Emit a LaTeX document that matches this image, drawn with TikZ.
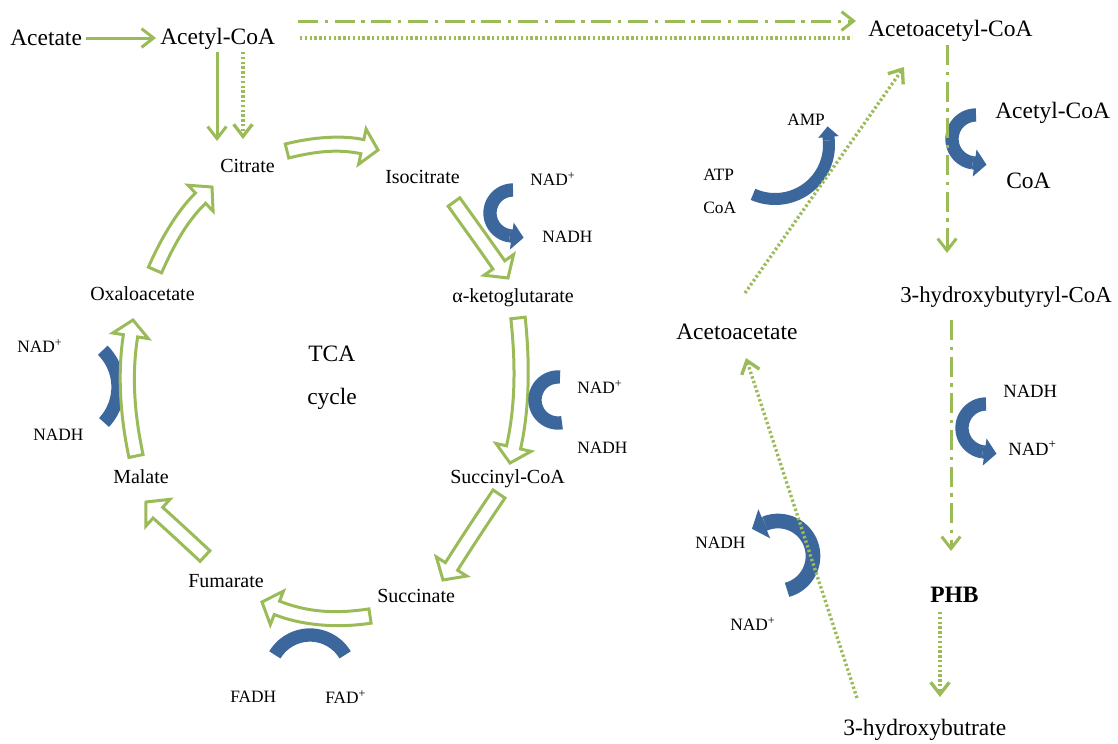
\documentclass[tikz,border=0pt]{standalone}
\usepackage{fontspec}
\setmainfont{Liberation Serif}
\usetikzlibrary{arrows.meta,calc}
\definecolor{tcagreen}{RGB}{155,187,89}
\definecolor{cofblue}{RGB}{60,103,156}
\newcommand\bkw{5.4pt}
\newcommand\bkh{13.5pt}
\newcommand\bkl{12pt}
\newcommand\sizeL{\fontsize{17.6pt}{20pt}\selectfont}
\newcommand\sizeS{\fontsize{15pt}{18pt}\selectfont}
\newcommand\sizeM{\fontsize{13pt}{16pt}\selectfont}
\newcommand\sizeR{\fontsize{14pt}{17pt}\selectfont}
% curved hollow block arrow: tail, control, tip
\newcommand\cblock[3]{%
  \path ($(#3)!\bkl!(#2)$) coordinate (bkH)
        ($(#1)!2/3!(#2)$) coordinate (bkC1)
        ($(bkH)!2/3!(#2)$) coordinate (bkC2);
  \draw[blockarrow]
    ($(#1)!\bkw!90:(#2)$)
    .. controls ($(bkC1)!\bkw!90:(#2)$) and ($(bkC2)!\bkw!-90:(#2)$) ..
    ($(bkH)!\bkw!-90:(#2)$) -- ($(bkH)!\bkh!-90:(#2)$) -- (#3)
    -- ($(bkH)!\bkh!90:(#2)$) -- ($(bkH)!\bkw!90:(#2)$)
    .. controls ($(bkC2)!\bkw!90:(#2)$) and ($(bkC1)!\bkw!-90:(#2)$) ..
    ($(#1)!\bkw!-90:(#2)$) -- cycle;
}
% blue cofactor arc: [opts]{cx}{cy}{r}{start}{end}
\newcommand\cofarc[6][]{%
  \draw[cof,#1] plot[domain=#5:#6,samples=41,variable=\t]
    ({#2+#4*cos(\t)},{#3+#4*sin(\t)});
}
% blue cofactor arc with arrow head at its end
\newcommand\cofarrow[6][]{%
  \draw[cof,#1] plot[domain=#5:#6,samples=41,variable=\t]
    ({#2+#4*cos(\t)},{#3+#4*sin(\t)});
  \draw[cof,#1,cofhead] ({#2+#4*cos(#6)},{#3+#4*sin(#6)})
    -- ++({14*sign(#6-#5)*(-sin(#6))},{14*sign(#6-#5)*cos(#6)});
}
\tikzset{
  cofhw/.store in=\cofhw, cofhw=20pt,
  cofhl/.store in=\cofhl, cofhl=9pt,
  lbl/.style={anchor=base west, inner sep=0pt},
  gline/.style={draw=tcagreen, line width=2.25pt},
  ghead/.style={-{Straight Barb[length=9pt,width=14pt]}},
  dotpat/.style={line width=2.5pt, dash pattern=on 1.8pt off 1.8pt},
  dashdotpat/.style={dash pattern=on 15pt off 5pt on 2.5pt off 5pt},
  blockarrow/.style={draw=tcagreen, line width=2.25pt, fill=white, line join=miter},
  cof/.style={draw=cofblue, line width=10pt, line join=round},
  cofhead/.style={-{Triangle[length=\cofhl,width=\cofhw]}}
}
\begin{document}
\begin{tikzpicture}[x=0.75pt,y=-0.75pt]
\useasboundingbox (0,0) rectangle (1118,743);

% ---------- labels ----------
\node[lbl,font=\sizeL] (acetate) at (10,45) {Acetate};
\node[lbl,font=\sizeL] (acetylcoa) at (160,44) {Acetyl-CoA};
\node[lbl,font=\sizeL] (acetoacetylcoa) at (868,36) {Acetoacetyl-CoA};
\node[lbl,font=\sizeS] (citrate) at (220,172) {Citrate};
\node[lbl,font=\sizeS] (isocitrate) at (385,183) {Isocitrate};
\node[lbl,font=\sizeM] (nadA) at (530,185) {NAD\textsuperscript{+}};
\node[lbl,font=\sizeM] (nadhA) at (542,242) {NADH};
\node[lbl,font=\sizeS] (akg) at (452,302) {α-ketoglutarate};
\node[lbl,font=\sizeM] (nadB) at (577,393) {NAD\textsuperscript{+}};
\node[lbl,font=\sizeM] (nadhB) at (577,453) {NADH};
\node[lbl,font=\sizeS] (succoa) at (450,483) {Succinyl-CoA};
\node[lbl,font=\sizeS] (succinate) at (377,602) {Succinate};
\node[lbl,font=\sizeS] (fumarate) at (188,587) {Fumarate};
\node[lbl,font=\sizeM] (fadh) at (230,702) {FADH};
\node[lbl,font=\sizeM] (fad) at (325,703) {FAD\textsuperscript{+}};
\node[lbl,font=\sizeS] (malate) at (113,483) {Malate};
\node[lbl,font=\sizeM] (nadC) at (17,352) {NAD\textsuperscript{+}};
\node[lbl,font=\sizeM] (nadhC) at (33,440) {NADH};
\node[lbl,font=\sizeS] (oxalo) at (90,300) {Oxaloacetate};
\node[lbl,font=\sizeL] (tca) at (308,361) {TCA};
\node[lbl,font=\sizeL] (cycle) at (307,404) {cycle};
\node[lbl,font=\sizeM] (amp) at (787,125) {AMP};
\node[lbl,font=\sizeM] (atp) at (703,180) {ATP};
\node[lbl,font=\sizeM] (coaA) at (703,213) {CoA};
\node[lbl,font=\sizeL] (acetylcoaR) at (995,118) {Acetyl-CoA};
\node[lbl,font=\sizeL] (coaR) at (1006,188) {CoA};
\node[lbl,font=\fontsize{17.1pt}{20pt}\selectfont] (hbcoa) at (900,302) {3-hydroxybutyryl-CoA};
\node[lbl,font=\sizeL] (acetoacetate) at (676,339) {Acetoacetate};
\node[lbl,font=\sizeR] (nadhD) at (1003,397) {NADH};
\node[lbl,font=\sizeR] (nadD) at (1008,455) {NAD\textsuperscript{+}};
\node[lbl,font=\sizeL\bfseries] (phb) at (930,602) {PHB};
\node[lbl,font=\sizeM] (nadhE) at (695,548) {NADH};
\node[lbl,font=\sizeM] (nadE) at (730,630) {NAD\textsuperscript{+}};
\node[lbl,font=\sizeL] (hb) at (843,735) {3-hydroxybutrate};

% ---------- connector end points ----------
\coordinate (p1s) at (86,38);   \coordinate (p1e) at (156,38);
\coordinate (p2s) at (217,52);  \coordinate (p2e) at (217,141);
\coordinate (p3s) at (243,52);  \coordinate (p3e) at (243,139);
\coordinate (p4s) at (298,21);  \coordinate (p4e) at (856,21);
\coordinate (p5s) at (300,38);  \coordinate (p5e) at (852,38);
\coordinate (p6s) at (947,45);  \coordinate (p6e) at (947,253);
\coordinate (p7s) at (951,320); \coordinate (p7e) at (951,551);
\coordinate (p8s) at (940,612); \coordinate (p8e) at (940,697);
\coordinate (p9s) at (857,698); \coordinate (p9e) at (746,358);
\coordinate (p10s) at (745,293); \coordinate (p10e) at (904,67);

% ---------- blue cofactor arrows (behind) ----------
\cofarc{66}{387}{52}{-45}{43}
\cofarc{310}{676}{41}{-149}{-31}
\cofarrow[line width=9pt,cofhw=15pt,cofhl=8pt]{775}{145}{54}{114}{-5}
\cofarrow{976}{139}{24}{-90}{-262}
\cofarrow{986}{428}{24}{-90}{-262}
\cofarrow[line width=11pt,cofhw=23pt,cofhl=10pt]{778}{556}{35}{75}{-112}

% ---------- TCA block arrows ----------
\coordinate (b1a) at (287,151); \coordinate (b1m) at (331,140); \coordinate (b1b) at (378,150);
\coordinate (b2a) at (454,202); \coordinate (b2m) at (480,238); \coordinate (b2b) at (508,278);
\coordinate (b3a) at (518,318); \coordinate (b3m) at (526,392); \coordinate (b3b) at (510,463);
\coordinate (b4a) at (499,494); \coordinate (b4m) at (470,537); \coordinate (b4b) at (443,580);
\coordinate (b5a) at (370,616); \coordinate (b5m) at (318,624); \coordinate (b5b) at (262,602);
\coordinate (b6a) at (205,556); \coordinate (b6m) at (176,529); \coordinate (b6b) at (146,502);
\coordinate (b7a) at (136,456); \coordinate (b7m) at (122,390); \coordinate (b7b) at (133,320);
\coordinate (b8a) at (155,270); \coordinate (b8m) at (176,222); \coordinate (b8b) at (212,187);
\cblock{b1a}{b1m}{b1b}
\cblock{b2a}{b2m}{b2b}
\cblock{b3a}{b3m}{b3b}
\cblock{b4a}{b4m}{b4b}
\cblock{b5a}{b5m}{b5b}
\cblock{b6a}{b6m}{b6b}
\cblock{b7a}{b7m}{b7b}
\cblock{b8a}{b8m}{b8b}

% ---------- blue cofactor arrows (front) ----------
\cofarrow{513}{213}{23}{-90}{-262}
\cofarc{558}{400}{23}{-85}{-280}

% ---------- green connectors ----------
\draw[gline,ghead] (p1s) -- (p1e);
\draw[gline,ghead] (p2s) -- (p2e);
\draw[gline,ghead,dotpat] (p3s) -- (p3e);
\draw[gline,ghead,dashdotpat] (p4s) -- (p4e);
\draw[gline,dotpat] (p5s) -- (p5e);
\draw[gline,ghead,dashdotpat] (p6s) -- (p6e);
\draw[gline,ghead,dashdotpat] (p7s) -- (p7e);
\draw[gline,ghead,dotpat] (p8s) -- (p8e);
\draw[gline,ghead,dotpat] (p9s) -- (p9e);
\draw[gline,ghead,dotpat] (p10s) -- (p10e);
\end{tikzpicture}
\end{document}
